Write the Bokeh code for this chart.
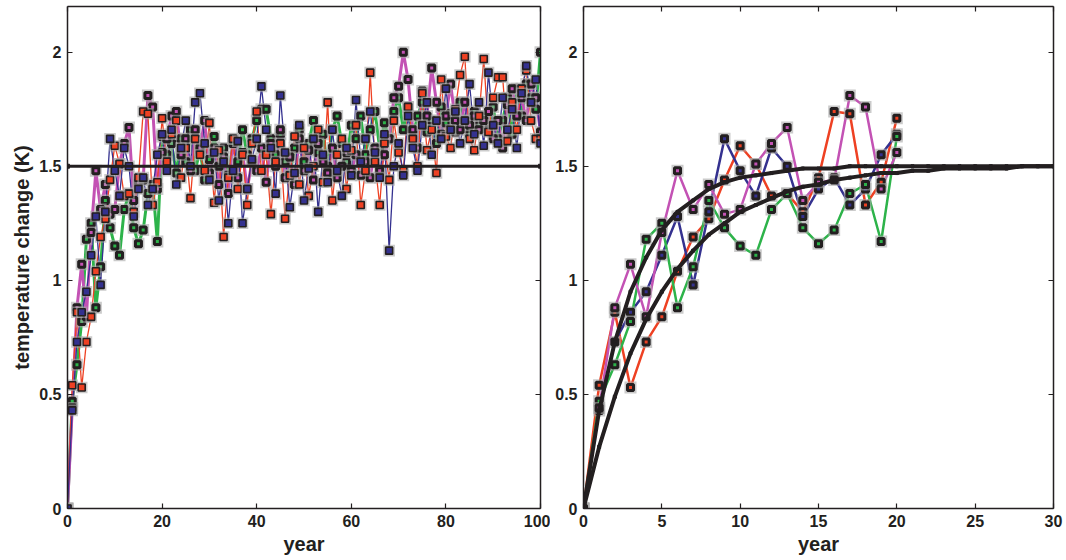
from bokeh.plotting import figure
from bokeh.layouts import row
from bokeh.models import LinearAxis, Range1d, FixedTicker, CustomJSTickFormatter
from bokeh.embed import file_html
from bokeh.resources import INLINE

years = list(range(101))

red = [0, 0.54, 0.86, 0.53, 0.73, 0.84, 1.04, 1.19, 1.27, 1.44, 1.59, 1.51, 1.37, 1.38, 1.30, 1.45, 1.74, 1.73, 1.33, 1.43, 1.71,
       1.52, 1.64, 1.70, 1.45, 1.58, 1.36, 1.62, 1.55, 1.48, 1.69,
       1.34, 1.57, 1.19, 1.45, 1.62, 1.40, 1.55, 1.33, 1.60, 1.74,
       1.48, 1.55, 1.29, 1.52, 1.60, 1.27, 1.46, 1.63, 1.42, 1.58,
       1.37, 1.50, 1.66, 1.43, 1.78, 1.35, 1.55, 1.62, 1.40, 1.57,
       1.68, 1.33, 1.48, 1.91, 1.52, 1.33, 1.60, 1.44, 1.70, 1.56,
       1.48, 1.76, 1.62, 1.50, 1.82, 1.57, 1.66, 1.47, 1.88, 1.63,
       1.58, 1.75, 1.90, 1.98, 1.62, 1.57, 1.72, 1.97, 1.65, 1.80,
       1.89, 1.89, 1.61, 1.78, 1.66, 1.84, 1.92, 1.70, 1.62, 1.62]

blue = [0, 0.43, 0.73, 0.86, 0.95, 1.11, 1.28, 0.98, 1.30, 1.62, 1.48, 1.37, 1.58, 1.50, 1.28, 1.40, 1.45, 1.33, 1.40, 1.55, 1.64,
        1.48, 1.66, 1.42, 1.58, 1.70, 1.50, 1.78, 1.82, 1.60, 1.44,
        1.56, 1.35, 1.52, 1.25, 1.48, 1.61, 1.25, 1.40, 1.53, 1.62,
        1.85, 1.66, 1.58, 1.38, 1.81, 1.56, 1.32, 1.47, 1.68, 1.35,
        1.49, 1.62, 1.30, 1.55, 1.43, 1.66, 1.48, 1.37, 1.58, 1.46,
        1.79, 1.52, 1.62, 1.74, 1.56, 1.45, 1.64, 1.13, 1.50, 1.60,
        1.46, 1.72, 1.58, 1.48, 1.68, 1.78, 1.55, 1.70, 1.62, 1.84,
        1.66, 1.74, 1.60, 1.70, 1.86, 1.64, 1.78, 1.59, 1.91, 1.68,
        1.60, 1.80, 1.66, 1.75, 1.58, 1.82, 1.94, 1.78, 1.88, 1.60]

green = [0, 0.47, 0.63, 0.82, 1.18, 1.25, 0.88, 1.06, 1.35, 1.23, 1.15, 1.11, 1.31, 1.38, 1.23, 1.16, 1.22, 1.38, 1.42, 1.17, 1.63,
         1.55, 1.60, 1.47, 1.62, 1.52, 1.66, 1.48, 1.57, 1.44, 1.53,
         1.63, 1.50, 1.58, 1.46, 1.60, 1.52, 1.66, 1.55, 1.62, 1.70,
         1.75, 1.75, 1.62, 1.55, 1.64, 1.52, 1.46, 1.58, 1.66, 1.52,
         1.60, 1.70, 1.56, 1.64, 1.50, 1.66, 1.72, 1.60, 1.52, 1.68,
         1.62, 1.72, 1.55, 1.66, 1.74, 1.58, 1.69, 1.62, 1.74, 1.80,
         1.66, 1.76, 1.63, 1.72, 1.78, 1.65, 1.70, 1.60, 1.76, 1.69,
         1.73, 1.65, 1.78, 1.70, 1.64, 1.74, 1.68, 1.72, 1.66, 1.76,
         1.62, 1.70, 1.80, 1.64, 1.84, 1.72, 1.86, 1.80, 1.75, 2.00]

magenta = [0, 0.44, 0.88, 1.07, 0.84, 1.21, 1.48, 1.31, 1.42, 1.29, 1.31, 1.51, 1.60, 1.67, 1.35, 1.43, 1.44, 1.81, 1.76, 1.40, 1.56,
           1.62, 1.72, 1.74, 1.55, 1.62, 1.48, 1.66, 1.58, 1.70, 1.47,
           1.58, 1.42, 1.54, 1.38, 1.62, 1.45, 1.56, 1.40, 1.52, 1.48,
           1.58, 1.43, 1.60, 1.50, 1.66, 1.45, 1.54, 1.42, 1.62, 1.48,
           1.57, 1.44, 1.60, 1.52, 1.47, 1.58, 1.45, 1.50, 1.56, 1.48,
           1.55, 1.46, 1.52, 1.45, 1.58, 1.48, 1.55, 1.62, 1.80, 1.85,
           2.00, 1.88, 1.66, 1.58, 1.83, 1.72, 1.93, 1.78, 1.64, 1.72,
           1.86, 1.70, 1.66, 1.78, 1.68, 1.72, 1.66, 1.70, 1.74, 1.62,
           1.70, 1.58, 1.77, 1.84, 1.72, 1.80, 1.70, 1.86, 1.80, 1.65]

equil_x = [0, 100]
equil_y = [1.5, 1.5]

t_fit = list(range(31))
fit_fast = [0, 0.43, 0.73, 0.95, 1.10, 1.22, 1.30, 1.35, 1.40, 1.43, 1.45, 1.46, 1.47, 1.48, 1.49, 1.49,
            1.49, 1.50, 1.50, 1.50, 1.50, 1.50, 1.50, 1.50, 1.50, 1.50, 1.50, 1.50, 1.50, 1.50, 1.50]
fit_slow = [0, 0.27, 0.49, 0.68, 0.83, 0.95, 1.05, 1.13, 1.20, 1.25, 1.30, 1.33, 1.36, 1.39, 1.41, 1.42,
            1.44, 1.45, 1.46, 1.47, 1.47, 1.48, 1.48, 1.49, 1.49, 1.49, 1.49, 1.49, 1.50, 1.50, 1.50]

y_ticks = [0, 0.5, 1, 1.5, 2]
x_ticks_left = [0, 20, 40, 60, 80, 100]
x_ticks_right = [0, 5, 10, 15, 20, 25, 30]

C_RED = "#ee4123"
C_BLUE = "#34318f"
C_GREEN = "#2db34a"
C_MAG = "#c352b4"
INK = "#231f20"
FONT = "Liberation Sans"


def style_axis(ax, ticks, labels=True):
    ax.ticker = FixedTicker(ticks=ticks)
    ax.major_tick_in = 5
    ax.major_tick_out = 0
    ax.minor_tick_line_color = None
    ax.axis_line_color = INK
    ax.axis_line_width = 1.5
    ax.major_tick_line_color = INK
    ax.major_tick_line_width = 1.2
    if labels:
        ax.formatter = CustomJSTickFormatter(code="return tick.toString();")
        ax.major_label_text_font = FONT
        ax.major_label_text_font_style = "bold"
        ax.major_label_text_font_size = "16px"
        ax.major_label_text_color = INK
        ax.major_label_standoff = 6
        ax.axis_label_text_font = FONT
        ax.axis_label_text_font_style = "bold"
        ax.axis_label_text_font_size = "20px"
        ax.axis_label_text_color = INK
        ax.axis_label_standoff = 3
    else:
        ax.formatter = CustomJSTickFormatter(code="return '';")
        ax.major_label_standoff = 0
        ax.major_label_text_font_size = "0px"
        ax.axis_label = None
        ax.axis_label_standoff = 0


def make_fig(width, height, xr, yr, xt, bl, br, bt, bb, xlabel, ylabel=None):
    p = figure(width=width, height=height, x_range=Range1d(*xr), y_range=Range1d(*yr),
               output_backend="svg", toolbar_location=None,
               min_border_left=bl, min_border_right=br, min_border_top=bt, min_border_bottom=bb)
    p.grid.visible = False
    p.outline_line_color = None
    p.background_fill_color = "white"
    bottom_ax = p.below[0]
    left_ax = p.left[0]
    style_axis(bottom_ax, xt)
    style_axis(left_ax, y_ticks)
    bottom_ax.axis_label = xlabel
    if ylabel:
        left_ax.axis_label = ylabel
    top = LinearAxis()
    style_axis(top, xt, labels=False)
    p.add_layout(top, "above")
    rax = LinearAxis()
    style_axis(rax, y_ticks, labels=False)
    p.add_layout(rax, "right")
    return p


# left: frame x 67..540, y 4..508
left = make_fig(550, 560, (0, 100), (0, 2.20), x_ticks_left, 67, 10, 4, 52,
                "year", "temperature change (K)")

series = [(green, C_GREEN, 3.0, 6, 3.0), (magenta, C_MAG, 3.0, 6, 3.0),
          (red, C_RED, 1.3, 7, 1.6), (blue, C_BLUE, 1.3, 7, 1.6)]
for ys, col, lw, sz, mlw in series:
    left.line(years, ys, line_color=col, line_width=lw)
for ys, col, lw, sz, mlw in series:
    left.scatter(years, ys, marker="square", size=sz + mlw + 3, fill_color="#a8a8a8",
                 line_color=None, fill_alpha=0.6)
    left.scatter(years, ys, marker="square", size=sz, fill_color=col,
                 line_color=INK, line_width=mlw)
left.line(equil_x, equil_y, line_color=INK, line_width=3)
left.scatter(equil_x, equil_y, marker="square", size=4, fill_color=INK, line_color=INK)

# right: frame x 583..1053, y 6..512
right = make_fig(516, 560, (0, 30), (0, 2.20), x_ticks_right, 33, 13, 6, 48, "year")

n = 21
yr20 = years[:n]
rseries = [(red, C_RED), (blue, C_BLUE), (green, C_GREEN), (magenta, C_MAG)]
for ys, col in rseries:
    right.line(yr20, ys[:n], line_color=col, line_width=2.5)
for ys, col in rseries:
    right.scatter(yr20, ys[:n], marker="square", size=12, fill_color="#a8a8a8",
                  line_color=None, fill_alpha=0.6)
    right.scatter(yr20, ys[:n], marker="square", size=6, fill_color=col,
                  line_color=INK, line_width=3)
for fy in (fit_fast, fit_slow):
    right.line(t_fit, fy, line_color=INK, line_width=4)
    right.scatter(t_fit, fy, marker="square", size=3, fill_color=INK, line_color=INK)

layout = row(left, right)
open("out.html", "w").write(file_html(layout, INLINE))
